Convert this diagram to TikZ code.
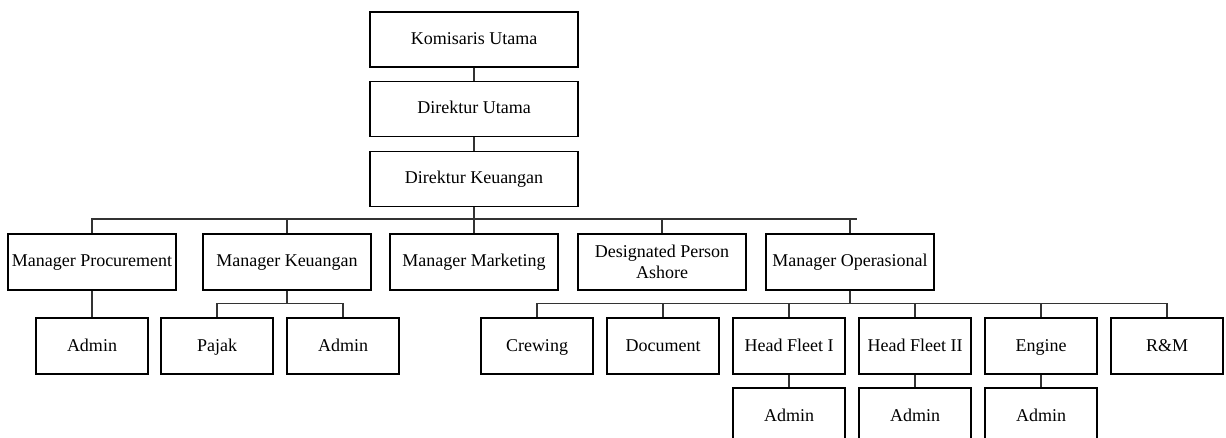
\documentclass[tikz,border=0pt]{standalone}
\usepackage{fontspec}
\setmainfont{Liberation Serif}
\usetikzlibrary{calc,positioning}
\tikzset{
  basebox/.style={draw, line width=1.5pt, minimum width=208pt, minimum height=55pt, inner sep=1pt, align=center, font=\fontsize{18}{21}\selectfont},
  topbox/.style={basebox, text height=13pt, text depth=3pt},
  mgrbox/.style={topbox, minimum width=168pt, minimum height=56pt},
  staffbox/.style={topbox, minimum width=112pt, minimum height=56pt},
  link/.style={line width=1.5pt, draw=black!80}
}
\begin{document}
\begin{tikzpicture}[x=1pt,y=-1pt]
\clip (0,0) rectangle (1226,438);
% top of the chart
\node[topbox] (ku) at (474,39.5) {Komisaris Utama};
\node[topbox] (du) at (474,109) {Direktur Utama};
\node[topbox] (dk) at (474,179) {Direktur Keuangan};
% managers
\node[mgrbox] (mp) at (92,262) {Manager Procurement};
\node[mgrbox] (mk) at (287,262) {Manager Keuangan};
\node[mgrbox] (mm) at (474,262) {Manager Marketing};
\node[basebox, minimum width=168pt, minimum height=56pt] (dpa) at (662,262) {Designated Person\\Ashore};
\node[mgrbox] (mo) at (850,262) {Manager Operasional};
% staff
\node[staffbox] (ad1) at (92,346) {Admin};
\node[staffbox] (pj) at (217,346) {Pajak};
\node[staffbox] (ad2) at (343,346) {Admin};
\node[staffbox] (cr) at (537,346) {Crewing};
\node[staffbox] (doc) at (663,346) {Document};
\node[staffbox] (hf1) at (789,346) {Head Fleet I};
\node[staffbox] (hf2) at (915,346) {Head Fleet II};
\node[staffbox] (eng) at (1041,346) {Engine};
\node[staffbox] (rm) at (1167,346) {R\&M};
\node[staffbox] (ad3) at (789,416) {Admin};
\node[staffbox] (ad4) at (915,416) {Admin};
\node[staffbox] (ad5) at (1041,416) {Admin};
% connectors
\draw[link] (ku) -- (du);
\draw[link] (du) -- (dk);
\foreach \m in {mp,mk,mm,dpa,mo}
  \draw[link] (dk.south) |- ([yshift=14pt]\m.north) -- (\m.north);
\coordinate (busend) at ([xshift=7pt,yshift=14pt]mo.north);
\draw[link] ([yshift=14pt]mo.north) -- (busend);
\draw[link] (mp) -- (ad1);
\foreach \s in {pj,ad2}
  \draw[link] (mk.south) |- ([yshift=13.5pt]\s.north) -- (\s.north);
\foreach \s in {cr,doc,hf1,hf2,eng,rm}
  \draw[link] (mo.south) |- ([yshift=13.5pt]\s.north) -- (\s.north);
\draw[link] (hf1) -- (ad3);
\draw[link] (hf2) -- (ad4);
\draw[link] (eng) -- (ad5);
\end{tikzpicture}
\end{document}
